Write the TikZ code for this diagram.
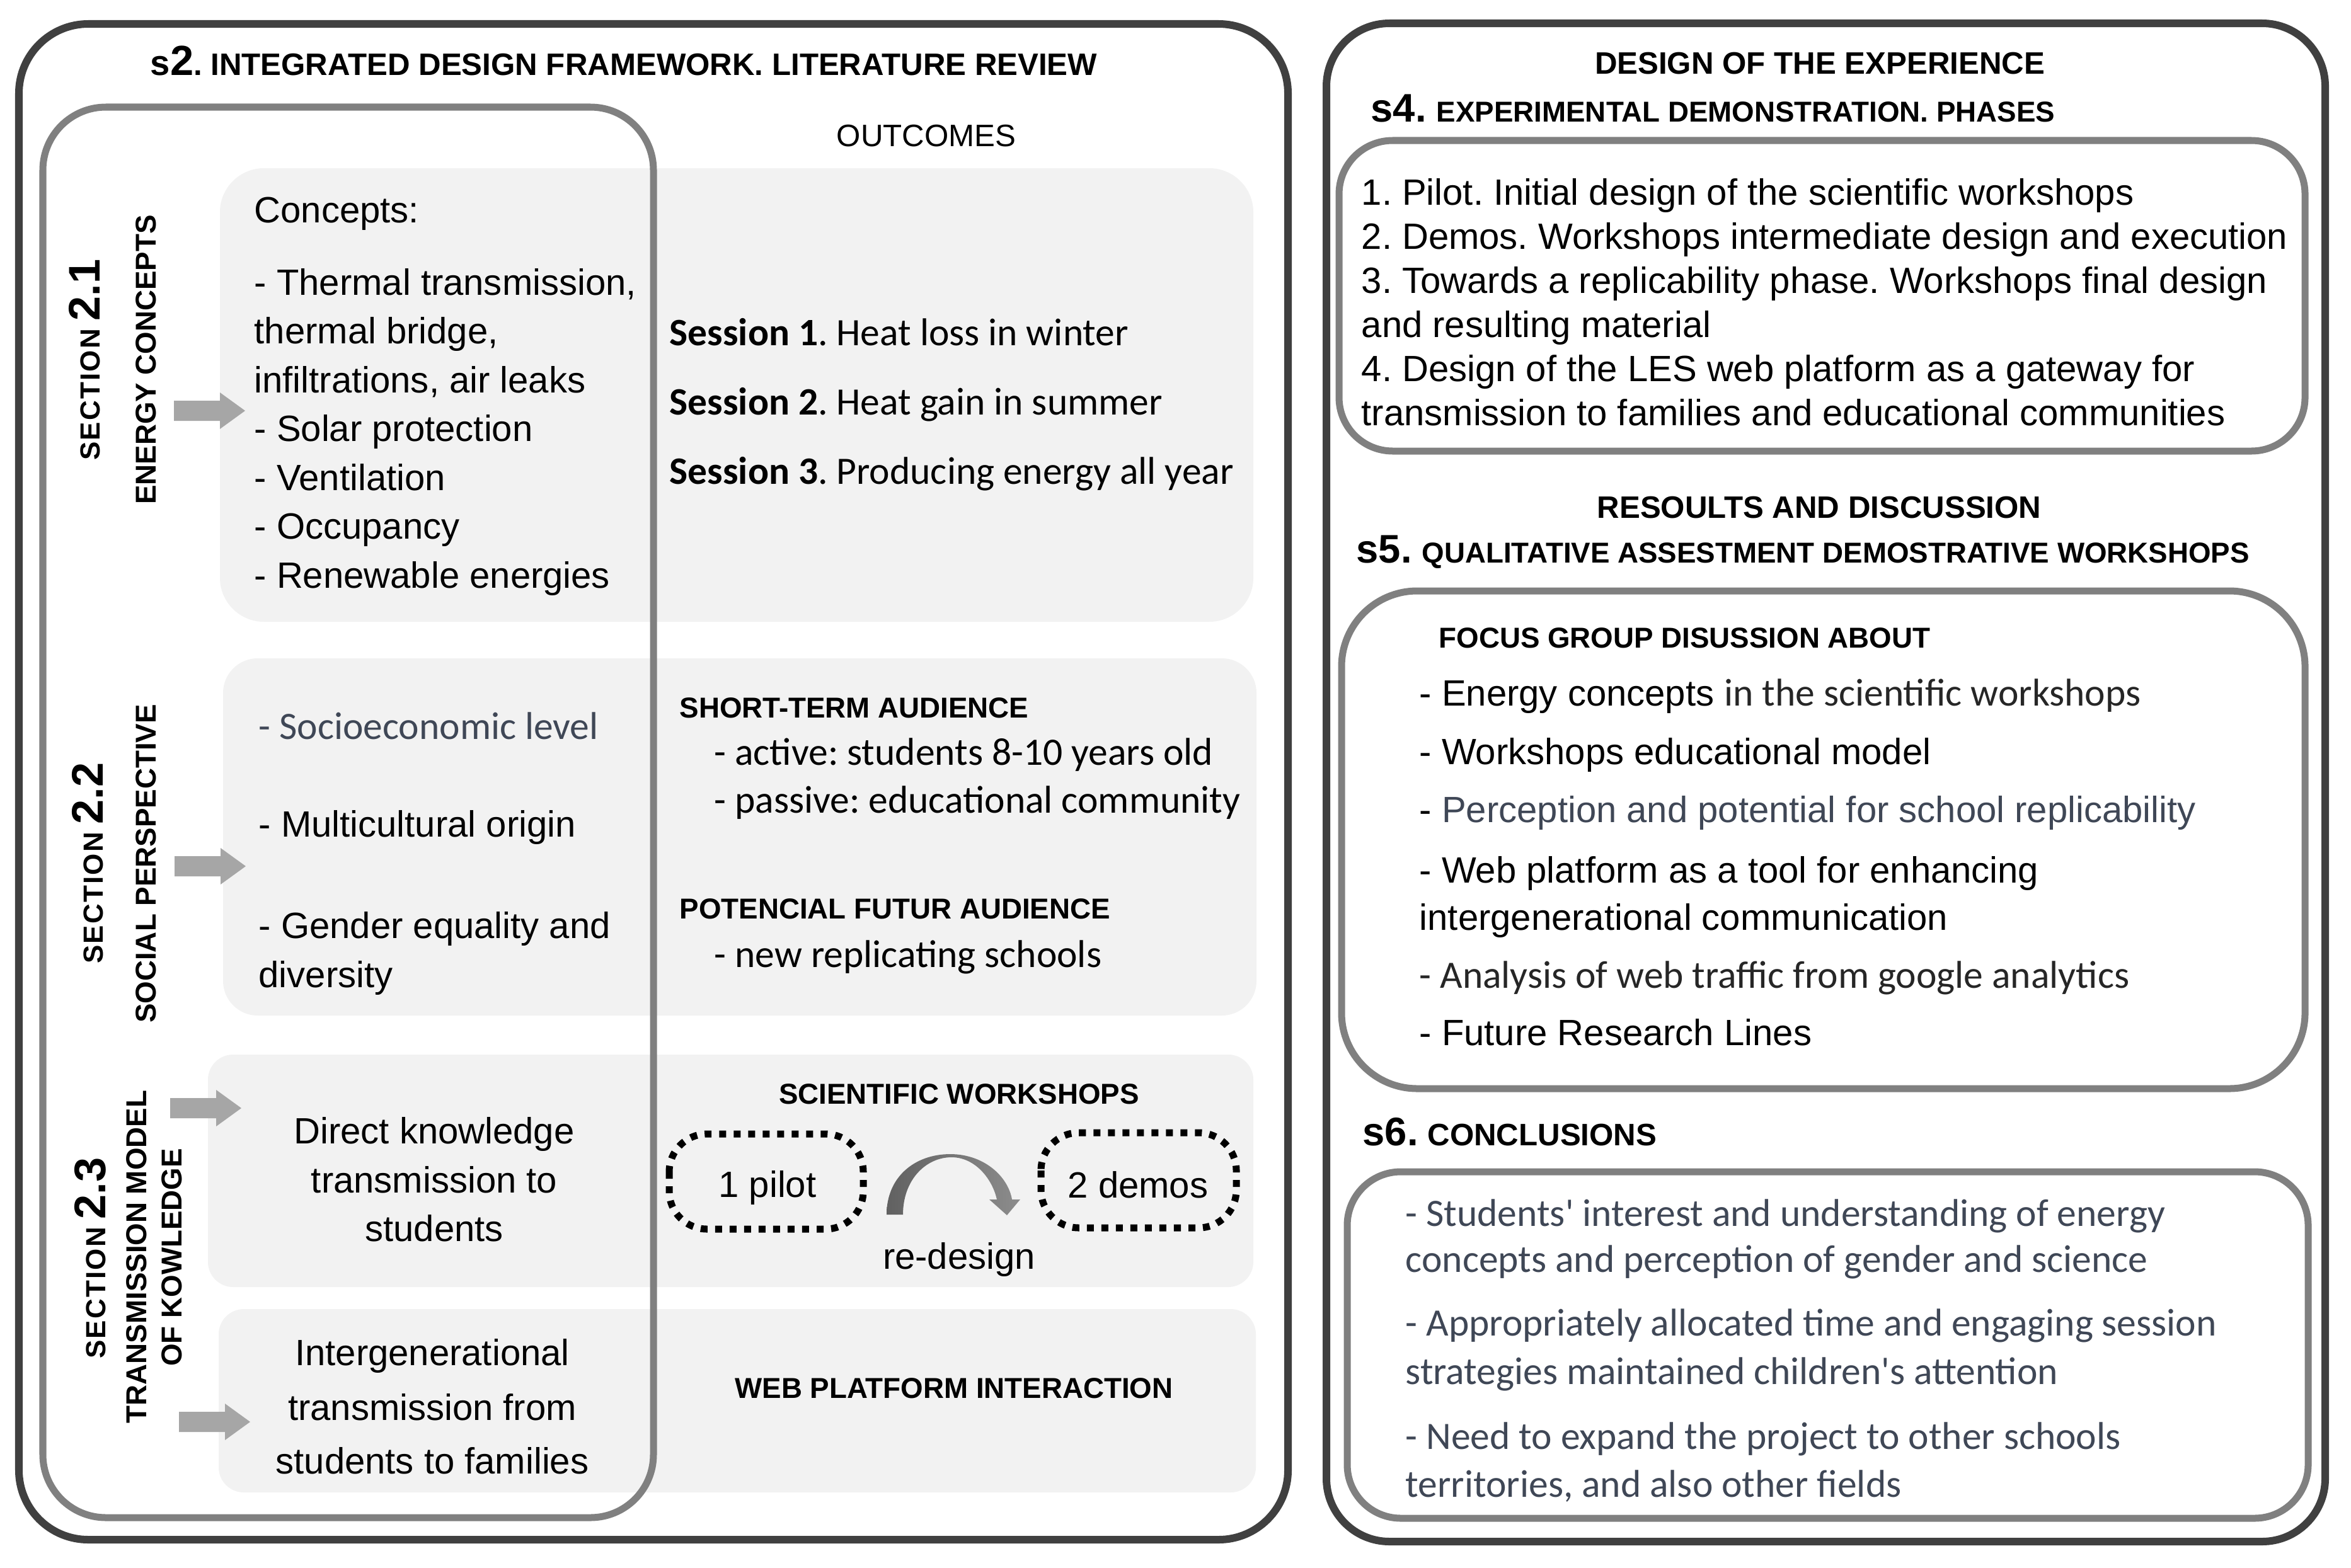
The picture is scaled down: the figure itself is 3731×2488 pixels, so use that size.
\documentclass[tikz,border=0pt]{standalone}
\usepackage{fontspec}
\setmainfont{Liberation Sans}
\newfontfamily\calfont{Carlito}
\definecolor{boxgray}{HTML}{F2F2F2}
\definecolor{linegray}{HTML}{808080}
\definecolor{darkline}{HTML}{404040}
\definecolor{arrowgray}{HTML}{A6A6A6}
\definecolor{slate}{HTML}{3F4756}
\definecolor{darktxt}{HTML}{262626}
\frenchspacing
\begin{document}
\frenchspacing
\begin{tikzpicture}[x=0.01cm,y=-0.01cm,
  txt/.style={inner sep=0pt, anchor=base west, font=\fontsize{16.5}{19}\selectfont},
  ctxt/.style={inner sep=0pt, anchor=base west, font=\calfont\fontsize{17.5}{20}\selectfont},
  hdrb/.style={inner sep=0pt, anchor=base west, font=\bfseries\fontsize{13}{15}\selectfont},
  hdrc/.style={inner sep=0pt, anchor=base, font=\bfseries\fontsize{14}{16}\selectfont},
  vlab/.style={inner sep=0pt, anchor=base, rotate=90, font=\bfseries\fontsize{13}{15}\selectfont},
  outerbox/.style={draw=darkline, line width=0.12cm, rounded corners=1.1cm},
  innerbox/.style={draw=linegray, line width=0.11cm},
  graybox/.style={fill=boxgray},
  dotbox/.style={draw=black, line width=0.11cm, dash pattern=on 0.11cm off 0.12cm, rounded corners=0.6cm},
  blockarrow/.style={fill=arrowgray}
]
\useasboundingbox (0,0) rectangle (3731,2488);
\fill[white] (0,0) rectangle (3731,2488);

% ---------------- outer boxes
\draw[outerbox] (30,38) rectangle (2044,2444);
\draw[outerbox, rounded corners=1.0cm] (2105,37) rectangle (3690,2447);

% ---------------- light gray boxes (left)
\fill[graybox, rounded corners=0.7cm] (349,267) rectangle (1989,987);
\fill[graybox, rounded corners=0.55cm] (354,1045) rectangle (1994,1612);
\fill[graybox, rounded corners=0.4cm] (330,1674) rectangle (1989,2043);
\fill[graybox, rounded corners=0.4cm] (347,2078) rectangle (1993,2369);

% inner gray frame of the left column
\draw[innerbox, rounded corners=1.0cm] (68,170) rectangle (1037,2409);

% ---------------- right inner boxes
\draw[innerbox, rounded corners=0.85cm] (2125,223) rectangle (3658,716);
\draw[innerbox, rounded corners=1.2cm] (2129,938) rectangle (3658,1728);
\draw[innerbox, rounded corners=0.85cm] (2138,1860) rectangle (3663,2410);

% ---------------- block arrows
\foreach \x/\c in {276/652, 277/1375, 270/1759, 284/2257}
  \fill[blockarrow] (\x,\c-16) -- (\x+73,\c-16) -- (\x+73,\c-29) -- (\x+113,\c)
     -- (\x+73,\c+29) -- (\x+73,\c+16) -- (\x,\c+16) -- cycle;

% ---------------- header left
\node[inner sep=0pt, anchor=base west, font=\bfseries\fontsize{14}{16}\selectfont] (t2) at (238,120)
  {{\fontsize{16}{16}\selectfont s}{\fontsize{19}{19}\selectfont 2}. INTEGRATED DESIGN FRAMEWORK. LITERATURE REVIEW};
\node[inner sep=0pt, anchor=base, font=\fontsize{14}{16}\selectfont] (outc) at (1470,232) {OUTCOMES};

% ---------------- vertical section labels
\node[vlab] (s21) at (158,571) {{\fontsize{12.5}{14}\selectfont\addfontfeature{LetterSpace=5}SECTION} {\fontsize{20}{22}\selectfont 2.1}};
\node[vlab] (e21) at (247,571) {ENERGY CONCEPTS};
\node[vlab] (s22) at (163,1370) {{\fontsize{12.5}{14}\selectfont\addfontfeature{LetterSpace=5}SECTION} {\fontsize{20}{22}\selectfont 2.2}};
\node[vlab] (e22) at (247,1371) {SOCIAL PERSPECTIVE};
\node[vlab] (s23) at (167,1997) {{\fontsize{12.5}{14}\selectfont\addfontfeature{LetterSpace=5}SECTION} {\fontsize{20}{22}\selectfont 2.3}};
\node[vlab] (e23a) at (232,1995) {TRANSMISSION MODEL};
\node[vlab] (e23b) at (288,1996) {OF KOWLEDGE};

% ---------------- energy concepts
\node[txt] (cc0) at (403,353) {Concepts:};
\node[txt] (cc1) at (403,468) {- Thermal transmission,};
\node[txt] (cc2) at (403,545) {thermal bridge,};
\node[txt] (cc3) at (403,623) {infiltrations, air leaks};
\node[txt] (cc4) at (403,700) {- Solar protection};
\node[txt] (cc5) at (403,778) {- Ventilation};
\node[txt] (cc6) at (403,855) {- Occupancy};
\node[txt] (cc7) at (403,933) {- Renewable energies};

\node[ctxt] (ss1) at (1062,548) {\textbf{Session 1}. Heat loss in winter};
\node[ctxt] (ss2) at (1062,658) {\textbf{Session 2}. Heat gain in summer};
\node[ctxt] (ss3) at (1062,768) {\textbf{Session 3}. Producing energy all year};

% ---------------- social perspective
\node[ctxt, text=slate] (so1) at (410,1173) {- Socioeconomic level};
\node[txt] (so2) at (410,1328) {- Multicultural origin};
\node[txt] (so3) at (410,1489) {- Gender equality and};
\node[txt] (so4) at (410,1567) {diversity};

\node[hdrb] (au1) at (1078,1139) {SHORT-TERM AUDIENCE};
\node[ctxt] (au2) at (1133,1214) {- active: students 8-10 years old};
\node[ctxt] (au3) at (1133,1290) {- passive: educational community};
\node[hdrb] (au4) at (1078,1458) {POTENCIAL FUTUR AUDIENCE};
\node[ctxt] (au5) at (1133,1535) {- new replicating schools};

% ---------------- transmission model
\node[txt, anchor=base] (dk1) at (689,1815) {Direct knowledge};
\node[txt, anchor=base] (dk2) at (689,1893) {transmission to};
\node[txt, anchor=base] (dk3) at (689,1970) {students};
\node[txt, anchor=base] (ig1) at (686,2167) {Intergenerational};
\node[txt, anchor=base] (ig2) at (686,2254) {transmission from};
\node[txt, anchor=base] (ig3) at (686,2339) {students to families};

\node[hdrb, anchor=base] (sw) at (1522,1752) {SCIENTIFIC WORKSHOPS};
\draw[dotbox] (1062,1800) rectangle (1370,1951);
\draw[dotbox] (1652,1798) rectangle (1962,1949);
\node[txt, anchor=base] (pilot) at (1218,1900) {1 pilot};
\node[txt, anchor=base] (demos) at (1806,1901) {2 demos};
\shade[left color=black!62, right color=black!45]
  (1407,1928) .. controls (1407,1868) and (1452,1832) .. (1508,1832)
  .. controls (1562,1832) and (1600,1868) .. (1606,1904)
  -- (1619,1904) -- (1598,1929) -- (1570,1904) -- (1582,1904)
  .. controls (1575,1872) and (1548,1837) .. (1510,1837)
  .. controls (1470,1837) and (1433,1872) .. (1433,1928) -- cycle;
\node[txt, anchor=base] (redes) at (1522,2014) {re-design};
\node[hdrb, anchor=base] (web) at (1514,2219) {WEB PLATFORM INTERACTION};

% ---------------- right column
\node[hdrc] (dexp) at (2888,118) {DESIGN OF THE EXPERIENCE};
\node[hdrb] (s4) at (2175,193) {{\fontsize{18}{20}\selectfont s4.}\hspace{0.35em}EXPERIMENTAL DEMONSTRATION. PHASES};
\node[txt] (p1) at (2160,325) {1. Pilot. Initial design of the scientific workshops};
\node[txt] (p2) at (2160,395) {2. Demos. Workshops intermediate design and execution};
\node[txt] (p3) at (2160,465) {3. Towards a replicability phase. Workshops final design};
\node[txt] (p3b) at (2160,535) {and resulting material};
\node[txt] (p4) at (2160,605) {4. Design of the LES web platform as a gateway for};
\node[txt] (p4b) at (2160,675) {transmission to families and educational communities};

\node[hdrc] (res) at (2887,822) {RESOULTS AND DISCUSSION};
\node[hdrb] (s5) at (2152,893) {{\fontsize{18}{20}\selectfont s5.}\hspace{0.35em}QUALITATIVE ASSESTMENT DEMOSTRATIVE WORKSHOPS};
\node[hdrb] (fg) at (2283,1028) {FOCUS GROUP DISUSSION ABOUT};
\node[txt] (f1) at (2252,1120) {- Energy concepts {\calfont\fontsize{17.5}{20}\selectfont\color{darktxt}in the scientific workshops}};
\node[txt] (f2) at (2252,1213) {- Workshops educational model};
\node[txt] (f3) at (2252,1305) {- {\color{slate}Perception and potential for school replicability}};
\node[txt] (f4) at (2252,1401) {- Web platform as a tool for enhancing};
\node[txt] (f4b) at (2252,1476) {intergenerational communication};
\node[ctxt, text=darktxt] (f5) at (2252,1568) {- Analysis of web traffic from google analytics};
\node[txt] (f6) at (2252,1659) {- Future Research Lines};

\node[inner sep=0pt, anchor=base west, font=\bfseries\fontsize{14}{16}\selectfont] (s6) at (2162,1818) {{\fontsize{18}{20}\selectfont s6.}\hspace{0.3em}CONCLUSIONS};
\node[ctxt, text=slate] (k1) at (2230,1946) {- Students' interest and understanding of energy};
\node[ctxt, text=slate] (k1b) at (2230,2019) {concepts and perception of gender and science};
\node[ctxt, text=slate] (k2) at (2230,2120) {- Appropriately allocated time and engaging session};
\node[ctxt, text=slate] (k2b) at (2230,2197) {strategies maintained children's attention};
\node[ctxt, text=slate] (k3) at (2230,2300) {- Need to expand the project to other schools};
\node[ctxt, text=slate] (k3b) at (2230,2376) {territories, and also other fields};
\end{tikzpicture}
\end{document}
